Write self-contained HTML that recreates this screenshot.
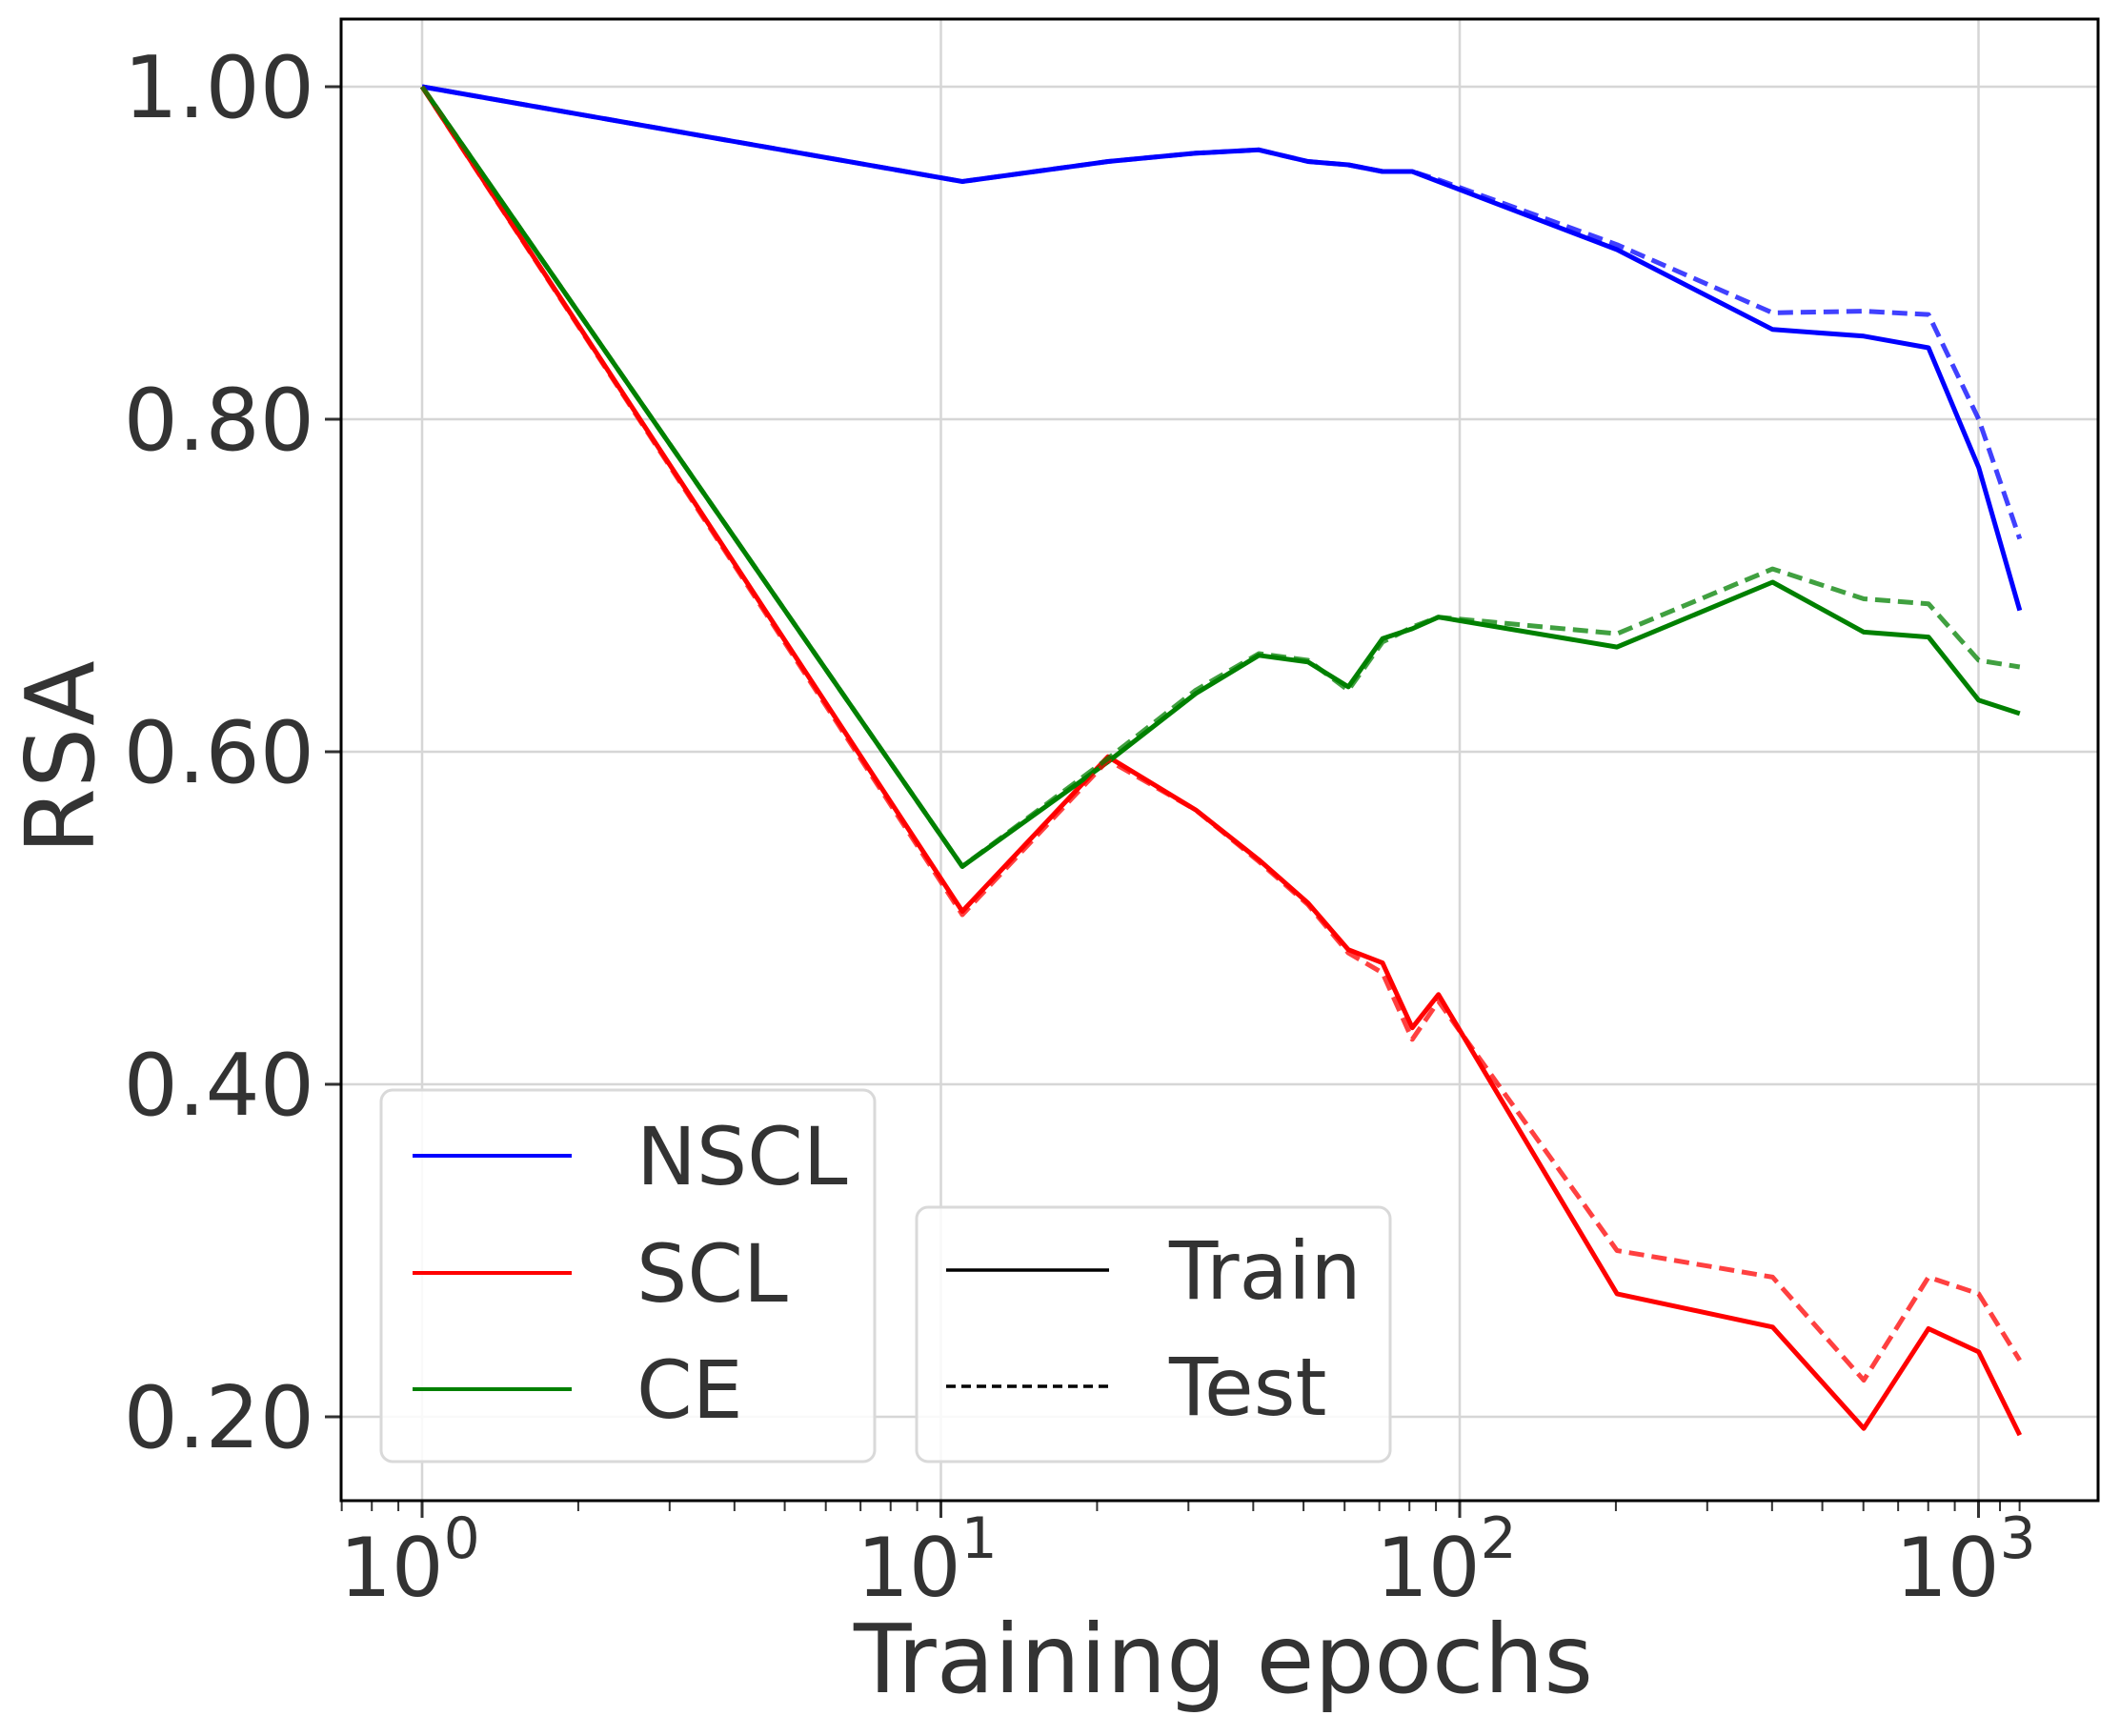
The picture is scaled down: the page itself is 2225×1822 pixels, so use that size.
<!DOCTYPE html>
<html><head><meta charset="utf-8"><style>
html,body{margin:0;padding:0;background:#fff}
svg{display:block;font-family:"DejaVu Sans","Liberation Sans",sans-serif}
</style></head><body>
<svg id="s" width="2225" height="1822" viewBox="0 0 2225 1822" xmlns="http://www.w3.org/2000/svg">
<rect width="2225" height="1822" fill="#fff"/>
<g id="grid" stroke="#d6d6d6" stroke-width="2.5"></g>
<g id="ticks" stroke="#333" stroke-width="3"></g>
<g id="lines" fill="none" stroke-width="5" stroke-linejoin="round"></g>
<rect x="358" y="20" width="1844" height="1555" fill="none" stroke="#000" stroke-width="3"/>
<g font-size="90" fill="#333" text-anchor="end">
<text x="330" y="123">1.00</text>
<text x="330" y="472">0.80</text>
<text x="330" y="821">0.60</text>
<text x="330" y="1170">0.40</text>
<text x="330" y="1519">0.20</text>
</g>
<g font-size="86" fill="#333" text-anchor="middle">
<text x="430" y="1675">10<tspan font-size="60" dy="-40">0</tspan></text>
<text x="973" y="1675">10<tspan font-size="60" dy="-40">1</tspan></text>
<text x="1518" y="1675">10<tspan font-size="60" dy="-40">2</tspan></text>
<text x="2063" y="1675">10<tspan font-size="60" dy="-40">3</tspan></text>
</g>
<text x="1284" y="1776" font-size="100" fill="#333" text-anchor="middle" textLength="776" lengthAdjust="spacingAndGlyphs">Training epochs</text>
<text transform="translate(98,795) rotate(-90)" font-size="100" fill="#333" text-anchor="middle">RSA</text>
<g>
<rect x="400" y="1144" width="518" height="390" rx="12" fill="#fff" fill-opacity="0.85" stroke="#d9d9d9" stroke-width="3"/>
<line x1="433" y1="1213" x2="600" y2="1213" stroke="#0000ff" stroke-width="4"/>
<line x1="433" y1="1336" x2="600" y2="1336" stroke="#ff0000" stroke-width="4"/>
<line x1="433" y1="1458" x2="600" y2="1458" stroke="#008000" stroke-width="4"/>
<g font-size="84" fill="#333">
<text x="668" y="1243">NSCL</text>
<text x="668" y="1366">SCL</text>
<text x="668" y="1488">CE</text>
</g>
<rect x="962" y="1267" width="497" height="267" rx="12" fill="#fff" fill-opacity="0.85" stroke="#d9d9d9" stroke-width="3"/>
<line x1="993" y1="1333" x2="1164" y2="1333" stroke="#000" stroke-width="3.5"/>
<line x1="993" y1="1455" x2="1164" y2="1455" stroke="#000" stroke-width="3.5" stroke-dasharray="10,6"/>
<g font-size="84" fill="#333">
<text x="1227" y="1363">Train</text>
<text x="1227" y="1485">Test</text>
</g>
</g>
</svg>
<script>
var NS="http://www.w3.org/2000/svg";
function X(e){return 443+544.5*Math.log10(e);}
function Y(v){return 91+(1-v)/0.8*1396;}
function el(p,t,a){var e=document.createElementNS(NS,t);for(var k in a)e.setAttribute(k,a[k]);document.getElementById(p).appendChild(e);}
[0.2,0.4,0.6,0.8,1.0].forEach(function(v){el("grid","line",{x1:358,x2:2202,y1:Y(v),y2:Y(v)});el("ticks","line",{x1:341,x2:358,y1:Y(v),y2:Y(v)});});
[1,10,100,1000].forEach(function(e){el("grid","line",{x1:X(e),x2:X(e),y1:20,y2:1575});el("ticks","line",{x1:X(e),x2:X(e),y1:1575,y2:1593});});
[0.7,0.8,0.9].concat([2,3,4,5,6,7,8,9],[20,30,40,50,60,70,80,90],[200,300,400,500,600,700,800,900],[1100,1200]).forEach(function(e){var x=X(e);if(x>358&&x<2202)el("ticks","line",{x1:x,x2:x,y1:1575,y2:1586,"stroke-width":2});});
var E=[1,11,21,31,41,51,61,71,81,91,201,401,601,801,1001,1201];
var D=[
["#0000ff",1,[1,.943,.955,.960,.962,.955,.953,.949,.949,.943,.902,.854,.850,.843,.771,.685]],
["#ff0000",1,[1,.504,.597,.565,.535,.509,.481,.473,.434,.454,.274,.254,.193,.253,.239,.189]],
["#008000",1,[1,.531,.594,.635,.658,.654,.639,.668,.674,.681,.663,.702,.672,.669,.631,.623]],
["#0000ff",0,[1,.943,.955,.960,.962,.955,.953,.949,.949,.944,.905,.864,.865,.863,.800,.728]],
["#ff0000",0,[1,.502,.595,.565,.534,.508,.479,.467,.427,.450,.300,.284,.222,.284,.274,.234]],
["#008000",0,[1,.531,.596,.637,.659,.655,.637,.666,.675,.681,.671,.710,.692,.689,.655,.651]]];
D.forEach(function(d){var p="";E.forEach(function(e,i){p+=(i?"L":"M")+X(e).toFixed(1)+","+Y(d[2][i]).toFixed(1);});
var a={d:p,stroke:d[0]};if(!d[1]){a["stroke-dasharray"]="16,8";a["stroke-opacity"]="0.75";}el("lines","path",a);});
</script>
</body></html>
